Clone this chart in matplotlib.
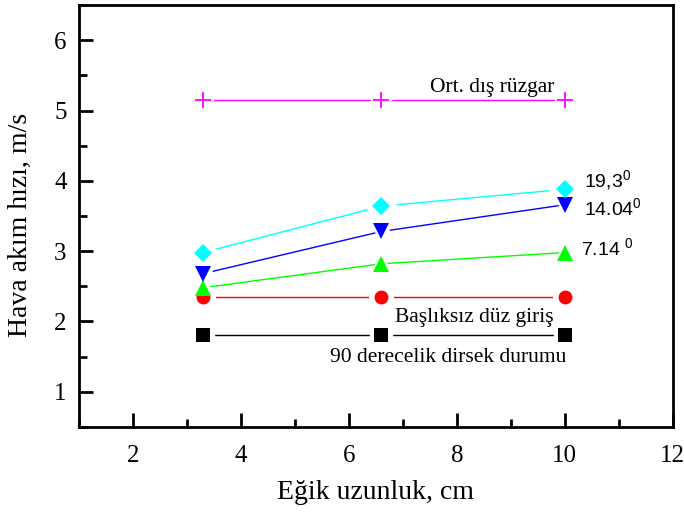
import numpy as np
import matplotlib
matplotlib.use("Agg")
import matplotlib.pyplot as plt
from matplotlib.ticker import MultipleLocator

# data
x = [3.3, 6.6, 10.0]
ort_dis = [5.15, 5.15, 5.15]
aci_19 = [2.98, 3.64, 3.88]
aci_14 = [2.68, 3.28, 3.66]
aci_7 = [2.48, 2.82, 2.98]
basliksiz = [2.35, 2.35, 2.35]
dirsek = [1.80, 1.80, 1.80]

plt.rcParams["font.family"] = ["Liberation Serif", "DejaVu Serif"]
plt.rcParams["mathtext.fontset"] = "custom"
plt.rcParams["mathtext.rm"] = "Liberation Sans"

fig = plt.figure(figsize=(6.84, 5.18), dpi=100)
ax = fig.add_axes([0.1155, 0.176, 0.868, 0.814])

series = [
    (dirsek, "black", "s", 9.5),
    (basliksiz, "red", "o", 10),
    (aci_7, "#00ff00", "^", 11),
    (aci_14, "#0000ff", "v", 11),
    (aci_19, "cyan", "D", 9),
]

# lines first, then white halos to open gaps, then the markers
for y, c, m, ms in series:
    ax.plot(x, y, color=c, lw=1.0, zorder=2)
for y, c, m, ms in series:
    ax.plot(x, y, ls="none", marker=m, ms=ms + 7, color="white", zorder=3)
for y, c, m, ms in series:
    ax.plot(x, y, ls="none", marker=m, ms=ms, color=c, mew=0, zorder=4)

ax.plot(x, ort_dis, color="#ff00ff", lw=1.0, zorder=2)
ax.plot(x, ort_dis, ls="none", marker="s", ms=14, color="white", zorder=3)
ax.plot(x, ort_dis, ls="none", marker="+", ms=11, mew=1.3, color="#ff00ff", zorder=4)

ax.set_xlim(1, 12)
ax.set_ylim(0.5, 6.5)
ax.xaxis.set_major_locator(MultipleLocator(2))
ax.xaxis.set_minor_locator(MultipleLocator(1))
ax.yaxis.set_major_locator(MultipleLocator(1))
ax.yaxis.set_minor_locator(MultipleLocator(0.5))
ax.tick_params(which="both", direction="in", top=False, right=False,
               labelsize=18, width=2)
ax.tick_params(axis="x", pad=13)
ax.tick_params(axis="y", pad=9)
ax.tick_params(which="major", length=10)
ax.tick_params(which="minor", length=6)
for s in ax.spines.values():
    s.set_linewidth(2)

ax.set_xlabel("Eğik uzunluk, cm", fontsize=20, va="center")
ax.set_ylabel("Hava akım hızı, m/s", fontsize=20, va="center")
ax.xaxis.set_label_coords(0.5, -0.156)
ax.yaxis.set_label_coords(-0.098, 0.479)

ax.text(7.5, 5.26, "Ort. dış rüzgar", fontsize=15.5)
ax.text(10.35, 3.9, r"19,3$^{\mathregular{0}}$", fontsize=14, family="Liberation Sans")
ax.text(10.35, 3.5, r"14.04$^{\mathregular{0}}$", fontsize=14, family="Liberation Sans")
ax.text(10.3, 2.93, r"7.14 $^{\mathregular{0}}$", fontsize=14, family="Liberation Sans")
ax.text(6.85, 1.99, "Başlıksız düz giriş", fontsize=15.5)
ax.text(5.65, 1.42, "90 derecelik dirsek durumu", fontsize=15.5)

fig.savefig("out.png", dpi=100)
plt.close()
